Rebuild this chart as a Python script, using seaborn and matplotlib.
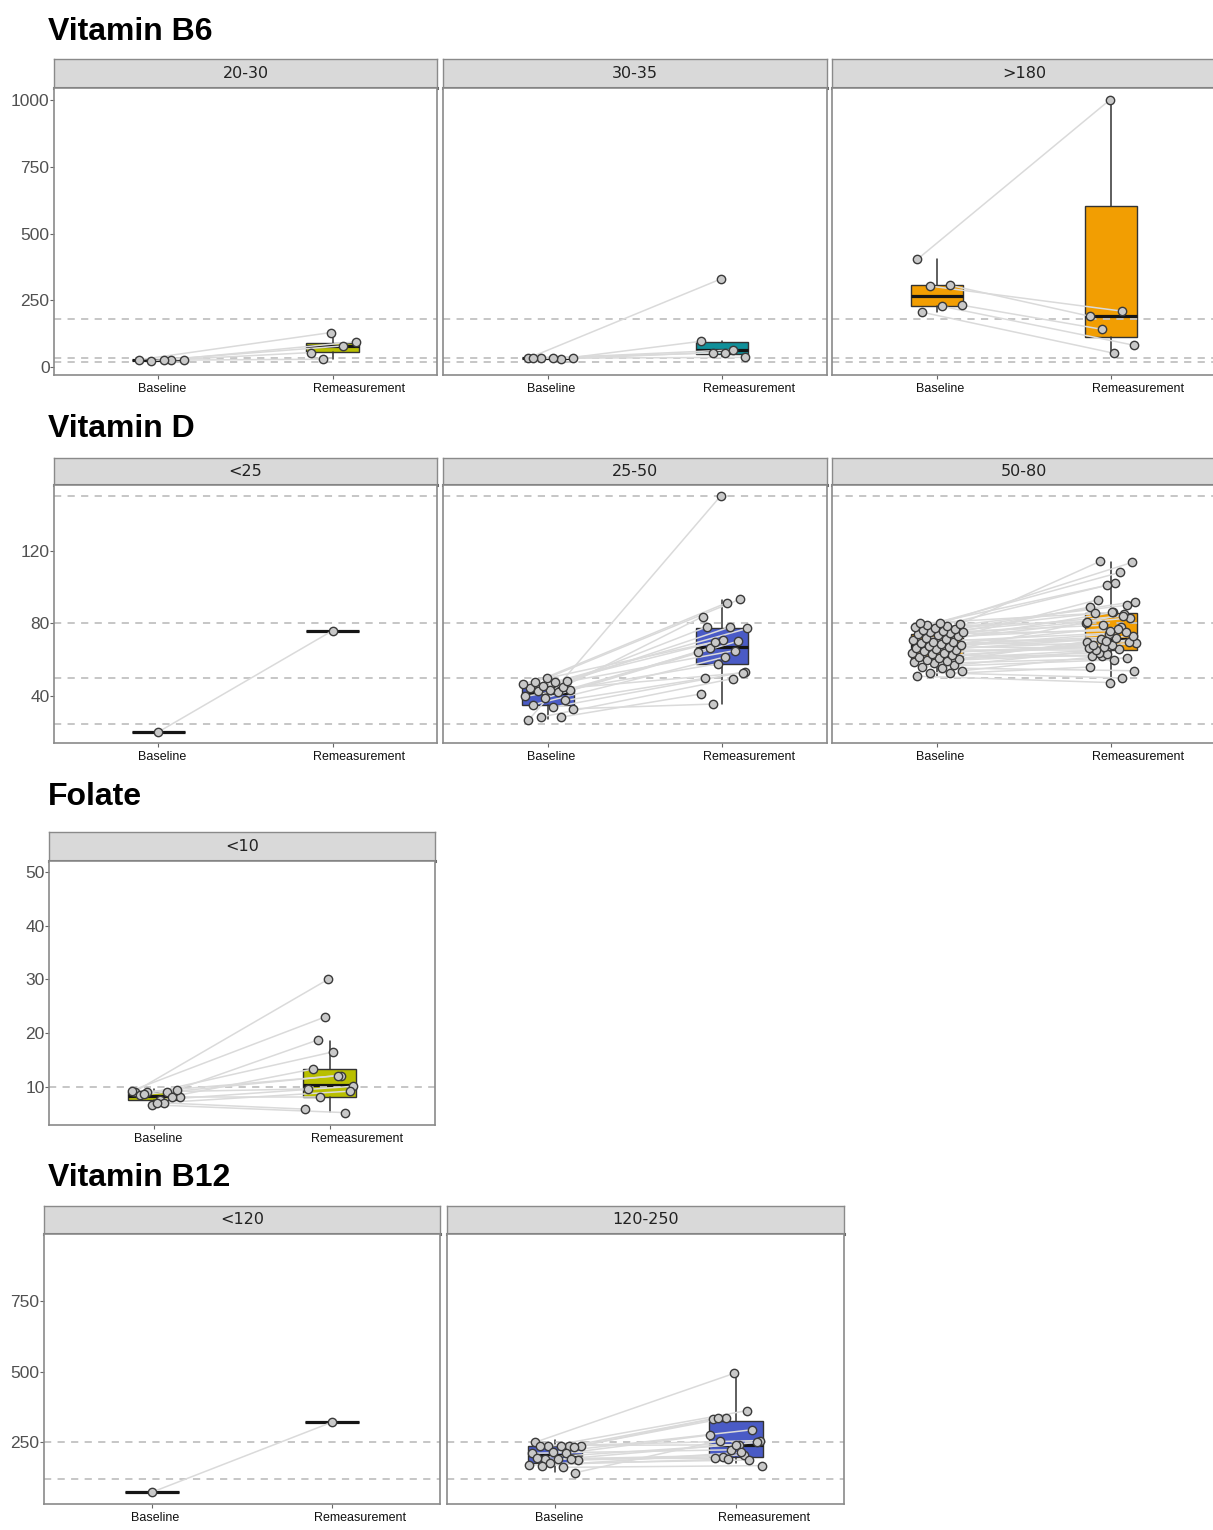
import numpy as np
import pandas as pd
import matplotlib
matplotlib.use("Agg")
import matplotlib.pyplot as plt
import seaborn as sns

sns.set_theme(style="white")
plt.rcParams["font.family"] = ["Liberation Sans", "DejaVu Sans"]

# ---------------------------------------------------------------- data
times = ["Baseline", "Remeasurement"]

# Vitamin B6
b6_2030_base = [28, 28, 25, 27, 26]
b6_2030_rem = [130, 55, 80, 30, 95]
b6_2030_box = [[25, 26, 27, 28, 28], [30, 58, 80, 90, 130]]

b6_3035_base = [34, 31, 33, 33, 34, 34]
b6_3035_rem = [330, 97, 65, 55, 37, 55]
b6_3035_box = [[31, 33, 33.5, 34, 34], [37, 50, 65, 96, 97]]

b6_180_base = [404, 307, 304, 232, 228, 206]
b6_180_rem = [1000, 191, 210, 142, 82, 52]
b6_180_box = [[206, 228, 266, 307, 404], [52, 112, 191, 603, 1000]]

# Vitamin D
d_lt25_base = [20.4]
d_lt25_rem = [76]
d_lt25_box = [[20.4, 20.4, 20.4, 20.4, 20.4], [76, 76, 76, 76, 76]]

d_2550_base = [26.7, 28.5, 28.5, 33.1, 34.0, 35.3, 37.7, 39.0, 39.9, 42.1, 42.6,
               43.2, 43.6, 44.5, 45.0, 45.4, 46.9, 47.8, 47.8, 48.2, 50.0]
d_2550_rem = [150, 41.2, 49.7, 35.7, 53.4, 61.6, 49.9, 70.2, 57.8, 64.2, 78,
              66.6, 52.8, 70.8, 83.7, 65.1, 69.9, 77.2, 91.4, 78.2, 93.2]
d_2550_box = [[27.6, 35.3, 42, 45.2, 49.5], [35.9, 57.8, 67, 77.6, 92.9]]

d_5080_base = [51, 52.5, 53, 54, 55.5, 56, 57, 58, 59, 59.5,
               60, 60.5, 61, 61.5, 62.5, 63, 63.5, 64, 65, 65.5,
               66, 66.5, 67, 67.5, 68, 68.5, 69, 69.5, 70, 71,
               71.5, 72, 73, 73.5, 74, 74.5, 75, 75.5, 76, 76.5,
               77, 77.5, 78, 78.5, 79, 79.5, 80, 80]
d_5080_rem = [47.5, 56, 50, 62, 54, 60, 65, 61, 63, 70,
              66, 64, 71, 68, 62, 85, 67, 69, 72, 65.5,
              70, 74, 66.5, 78, 71.5, 73, 86, 68, 75, 70.5,
              80, 77, 93, 83, 76, 89, 84, 79, 92, 102,
              85.5, 90, 101, 81, 108, 114, 113.5, 86]
d_5080_box = [[51, 60.7, 67.5, 74, 80.5], [47.6, 65.3, 71.2, 85.5, 113.5]]

# Folate
fol_lt10_base = [9.13, 9.1, 9.1, 8.2, 7.6, 8.4, 8.2, 6.65, 9.3, 7.0, 8.6, 9.5, 7.0]
fol_lt10_rem = [30, 9.6, 12.1, 8.2, 10.1, 16.5, 13.3, 5.2, 23, 5.85, 12.1, 18.7, 9.2]
fol_lt10_box = [[6.7, 7.6, 8.3, 9.1, 9.6], [5.4, 8.1, 10.25, 13.35, 18.6]]

# Vitamin B12
b12_lt120_base = [74]
b12_lt120_rem = [322]
b12_lt120_box = [[74, 74, 74, 74, 74], [322, 322, 322, 322, 322]]

b12_120250_base = [251, 236, 236, 239, 239, 239, 233, 216, 212, 212,
                   190, 188, 190, 196, 193, 176, 170, 162, 167, 143]
b12_120250_rem = [495, 335, 363, 337, 257, 242, 337, 295, 224, 277,
                  206, 200, 250, 242, 194, 188, 191, 168, 215, 257]
b12_120250_box = [[146, 176, 206, 238, 260], [176, 198, 242, 327, 495]]

# reference thresholds per nutrient
b6_thresholds = [20, 35, 180]
d_thresholds = [25, 50, 80, 150]
fol_thresholds = [10]
b12_thresholds = [120, 250]

# ---------------------------------------------------------------- style
YELLOW = "#B9BF00"
TEAL = "#10909A"
ORANGE = "#F29E02"
BLUE = "#4A5BC6"

W, H = 1213, 1530
fig = plt.figure(figsize=(W / 100, H / 100), dpi=100)
fig.patch.set_facecolor("white")


def px_axes(x0, y0, x1, y1):
    return fig.add_axes([x0 / W, 1 - y1 / H, (x1 - x0) / W, (y1 - y0) / H])


def jitter(n, phase):
    if n == 1:
        return np.zeros(1)
    k = np.arange(n)
    return (((k * 0.6180339887 + phase) % 1.0) - 0.5) * 0.3


def strip(x0, x1, y0, y1, label):
    s = px_axes(x0, y0, x1, y1)
    s.set_facecolor("#d9d9d9")
    s.set_xticks([])
    s.set_yticks([])
    for side in ("left", "right", "top"):
        s.spines[side].set_color("#8a8a8a")
        s.spines[side].set_linewidth(1.0)
    s.spines["bottom"].set_color("#6a6a6a")
    s.spines["bottom"].set_linewidth(2.2)
    s.text(0.5, 0.5, label, ha="center", va="center", fontsize=11.5,
           color="#222222", family=["DejaVu Sans"], transform=s.transAxes)


def panel(x0, x1, ys0, y0, y1, label, base, rem, box, color, thresholds,
          ylim, yticks, show_y):
    strip(x0, x1, ys0, y0, label)
    ax = px_axes(x0, y0, x1, y1)
    ax.set_facecolor("white")

    stats = []
    for lo, q1, med, q3, hi in box:
        stats.append(dict(whislo=lo, q1=q1, med=med, q3=q3, whishi=hi, fliers=[]))
    ax.bxp(stats, positions=[0, 1], widths=0.3, patch_artist=True,
           showfliers=False, showcaps=False,
           boxprops=dict(facecolor=color, edgecolor="#333333", linewidth=1.0),
           medianprops=dict(color="#151515", linewidth=2.3),
           whiskerprops=dict(color="#333333", linewidth=1.1), zorder=1.5)

    for h in thresholds:
        ax.axhline(h, color="#c2c2c2", lw=1.3, ls=(0, (4, 3.5)), zorder=2)

    n = len(base)
    df = pd.DataFrame({
        "id": list(range(n)) * 2,
        "time": [times[0]] * n + [times[1]] * n,
        "x": np.concatenate([0 + jitter(n, 0.13), 1 + jitter(n, 0.47)]),
        "value": list(base) + list(rem),
    })
    sns.lineplot(data=df, x="x", y="value", units="id", estimator=None,
                 color="#dadada", lw=1.1, ax=ax, zorder=3, legend=False)
    sns.scatterplot(data=df, x="x", y="value", color="#c9c9c9",
                    edgecolor="#3a3a3a", s=36, linewidth=1.0, ax=ax,
                    zorder=4, legend=False)

    ax.set_xlim(-0.6, 1.6)
    ax.set_ylim(*ylim)
    ax.set_xlabel("")
    ax.set_ylabel("")
    # tick marks sit on the categories; their labels are set a little to the right
    ax.set_xticks([0, 1])
    ax.set_xticklabels(["", ""])
    ax.set_xticks([0.02, 1.155], minor=True)
    ax.set_xticklabels(times, minor=True, fontsize=9, color="#111111")
    ax.tick_params(axis="x", which="major", bottom=True, length=3, width=0.8,
                   color="#666666")
    ax.tick_params(axis="x", which="minor", bottom=True, length=0, pad=6)
    ax.set_yticks(yticks)
    ax.set_yticklabels([str(t) for t in yticks], fontsize=12.5, color="#505050")
    ax.tick_params(axis="y", left=show_y, labelleft=show_y, length=2.6,
                   width=0.8, color="#666666", pad=0.6)
    for sp in ax.spines.values():
        sp.set_color("#8a8a8a")
        sp.set_linewidth(1.2)
        sp.set_visible(True)
    ax.grid(False)
    return ax


def title(y_baseline, text):
    fig.text(48 / W, 1 - y_baseline / H, text, fontsize=23, fontweight="bold",
             color="black", ha="left", va="baseline")


cols3 = [(54, 437), (443, 827), (832, 1216)]

# Vitamin B6 row
title(40, "Vitamin B6")
b6_lim = (-29, 1045)
b6_ticks = [0, 250, 500, 750, 1000]
panel(*cols3[0], 59, 88, 375, "20-30", b6_2030_base, b6_2030_rem, b6_2030_box,
      YELLOW, b6_thresholds, b6_lim, b6_ticks, True)
panel(*cols3[1], 59, 88, 375, "30-35", b6_3035_base, b6_3035_rem, b6_3035_box,
      TEAL, b6_thresholds, b6_lim, b6_ticks, False)
panel(*cols3[2], 59, 88, 375, ">180", b6_180_base, b6_180_rem, b6_180_box,
      ORANGE, b6_thresholds, b6_lim, b6_ticks, False)

# Vitamin D row
title(437, "Vitamin D")
d_lim = (14.3, 156)
d_ticks = [40, 80, 120]
panel(*cols3[0], 458, 485, 743, "<25", d_lt25_base, d_lt25_rem, d_lt25_box,
      BLUE, d_thresholds, d_lim, d_ticks, True)
panel(*cols3[1], 458, 485, 743, "25-50", d_2550_base, d_2550_rem, d_2550_box,
      BLUE, d_thresholds, d_lim, d_ticks, False)
panel(*cols3[2], 458, 485, 743, "50-80", d_5080_base, d_5080_rem, d_5080_box,
      ORANGE, d_thresholds, d_lim, d_ticks, False)

# Folate row
title(805, "Folate")
panel(49, 435, 832, 861, 1125, "<10", fol_lt10_base, fol_lt10_rem, fol_lt10_box,
      YELLOW, fol_thresholds, (2.9, 52), [10, 20, 30, 40, 50], True)

# Vitamin B12 row
title(1186, "Vitamin B12")
b12_lim = (32, 989)
b12_ticks = [250, 500, 750]
panel(44, 440, 1206, 1234, 1504, "<120", b12_lt120_base, b12_lt120_rem,
      b12_lt120_box, BLUE, b12_thresholds, b12_lim, b12_ticks, True)
panel(447, 844, 1206, 1234, 1504, "120-250", b12_120250_base, b12_120250_rem,
      b12_120250_box, BLUE, b12_thresholds, b12_lim, b12_ticks, False)

fig.savefig("out.png", dpi=100, facecolor="white")
